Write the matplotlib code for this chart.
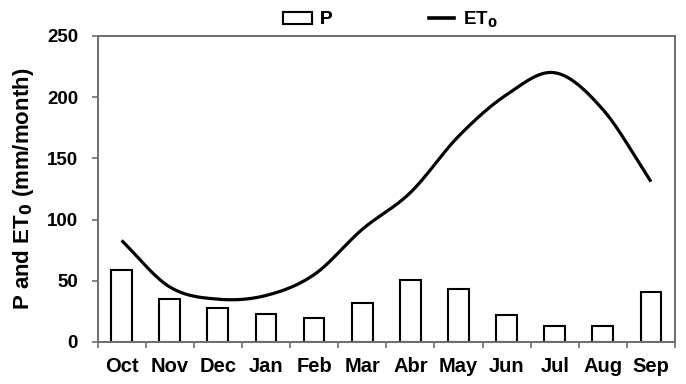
import numpy as np
import matplotlib.pyplot as plt
from matplotlib.lines import Line2D
from matplotlib.patches import Patch

plt.rcParams['font.family'] = ['Liberation Sans', 'DejaVu Sans']
plt.rcParams['font.weight'] = 'bold'

months = ['Oct', 'Nov', 'Dec', 'Jan', 'Feb', 'Mar', 'Abr', 'May', 'Jun', 'Jul', 'Aug', 'Sep']
precip = [59, 35, 28, 23, 20, 32, 51, 43, 22, 13, 13, 41]
et0 = [83, 45, 35, 38, 55, 92, 122, 168, 202, 220, 190, 131]


def smooth(x, y, n=20):
    # Catmull-Rom curve through the points, like Excel's smoothed line
    x = np.asarray(x, float)
    y = np.asarray(y, float)
    px = np.concatenate([[2 * x[0] - x[1]], x, [2 * x[-1] - x[-2]]])
    py = np.concatenate([[2 * y[0] - y[1]], y, [2 * y[-1] - y[-2]]])
    xs, ys = [], []
    t = np.linspace(0, 1, n, endpoint=False)
    for i in range(1, len(px) - 2):
        for arr, out in ((px, xs), (py, ys)):
            p0, p1, p2, p3 = arr[i - 1], arr[i], arr[i + 1], arr[i + 2]
            out.extend(0.5 * (2 * p1 + (-p0 + p2) * t + (2 * p0 - 5 * p1 + 4 * p2 - p3) * t ** 2
                              + (-p0 + 3 * p1 - 3 * p2 + p3) * t ** 3))
    xs.append(x[-1])
    ys.append(y[-1])
    return np.array(xs), np.array(ys)


W, H = 686, 384
fig = plt.figure(figsize=(W / 100, H / 100), dpi=100)
ax = fig.add_axes([97.5 / W, 1 - 342 / H, 577.5 / W, 306 / H])

x = np.arange(len(months))
ax.bar(x, precip, width=0.43, color='white', edgecolor='black', linewidth=1.5, zorder=2)
sx, sy = smooth(x, et0)
ax.plot(sx, sy, color='black', linewidth=2.3, zorder=3, solid_capstyle='butt')

ax.set_xlim(-0.5, len(months) - 0.5)
ax.set_ylim(0, 250)
ax.set_yticks([0, 50, 100, 150, 200, 250])
ax.set_xticks(x)
ax.set_xticklabels(months)
ax.set_xticks(np.arange(-0.5, len(months)), minor=True)
ax.tick_params(axis='x', which='major', length=0, pad=11, labelsize=14.5)
ax.tick_params(axis='x', which='minor', length=4, width=1.2, direction='out', color='#6d6d6d')
ax.tick_params(axis='y', length=4.5, width=1.2, direction='out', pad=9.5, labelsize=13.5,
               color='#6d6d6d')
for s in ax.spines.values():
    s.set_color('#6d6d6d')
    s.set_linewidth(1.4)
ax.set_ylabel('P and ET$_\\mathbf{0}$ (mm/month)', fontsize=16, fontweight='bold', labelpad=8)

# legend entries sit in a row above the plot
leg1 = fig.legend([Patch(facecolor='white', edgecolor='black', linewidth=1.5)], ['P'],
                  loc='center left', bbox_to_anchor=(283 / W, 1 - 20 / H), frameon=False,
                  fontsize=13.5, handlelength=1.55, handleheight=0.6, handletextpad=0.43,
                  borderpad=0, borderaxespad=0)
fig.legend([Line2D([0], [0], color='black', linewidth=2.6)], ['ET$_\\mathbf{0}$'],
           loc='center left', bbox_to_anchor=(429 / W, 1 - 20 / H), frameon=False,
           fontsize=13.5, handlelength=1.33, handletextpad=0.48,
           borderpad=0, borderaxespad=0)
fig.add_artist(leg1)

fig.savefig('out.png', dpi=100)
